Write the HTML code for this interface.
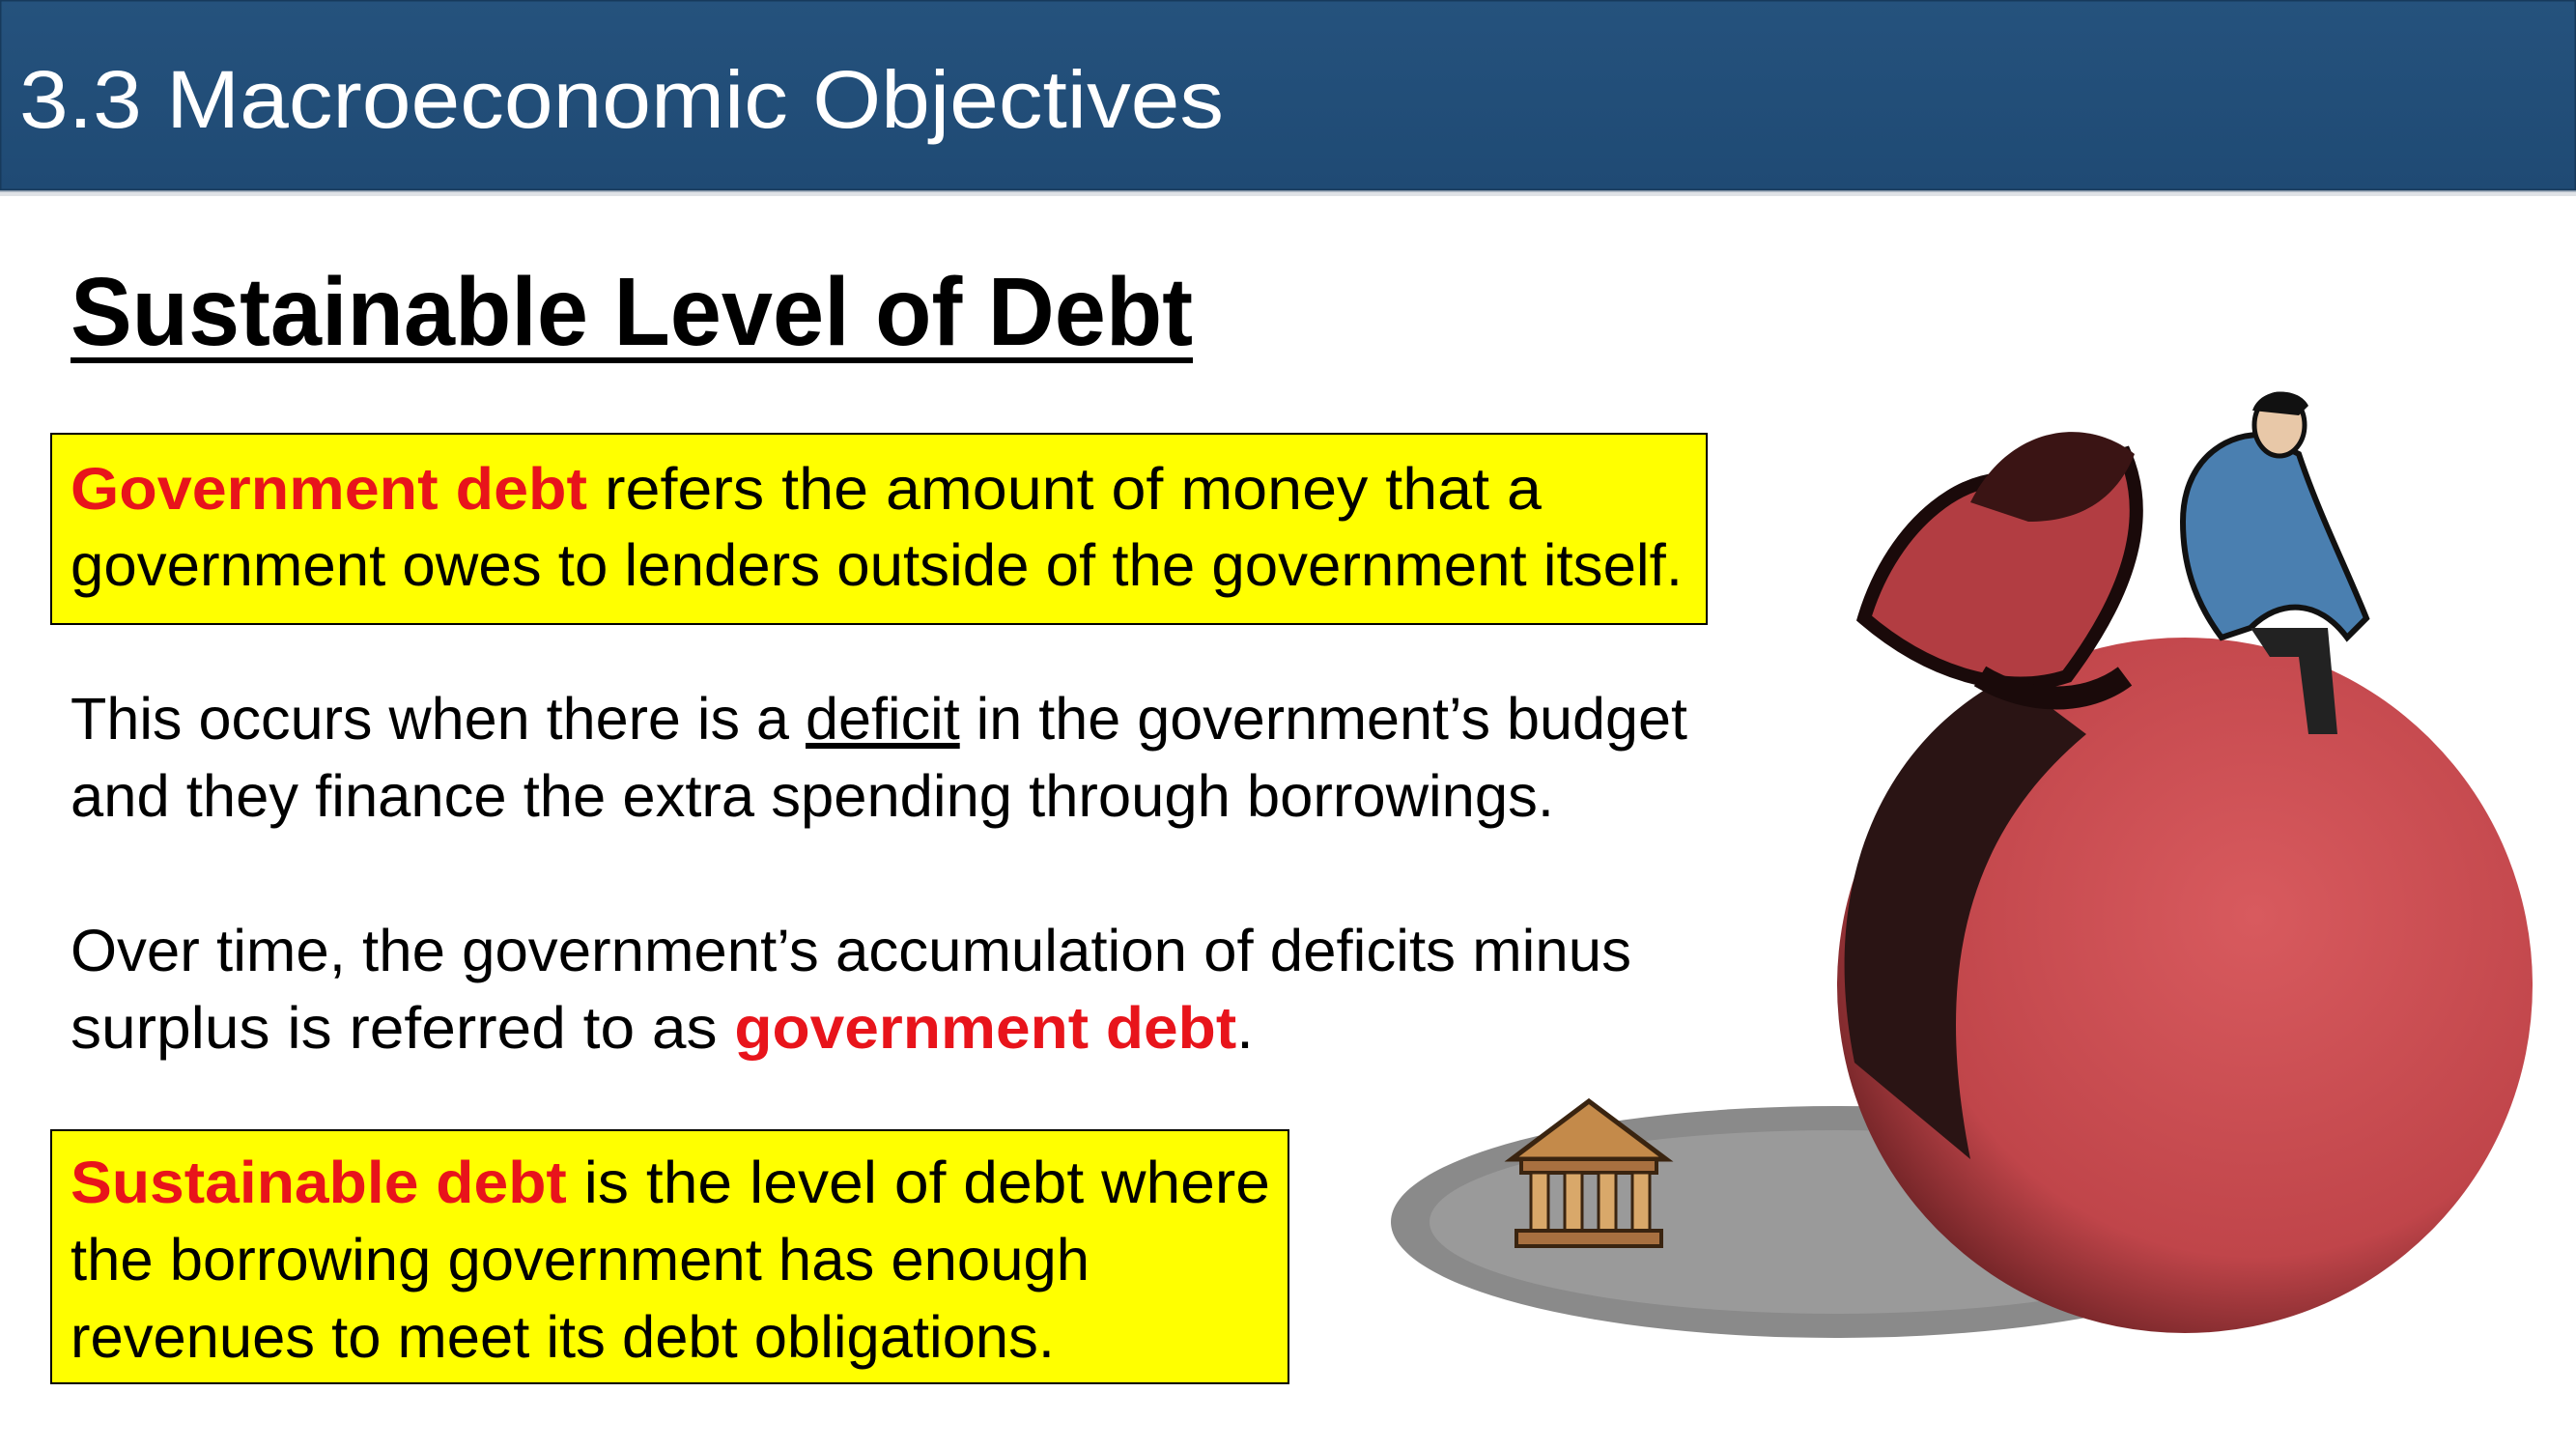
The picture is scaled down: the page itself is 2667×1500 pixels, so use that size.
<!DOCTYPE html>
<html><head><meta charset="utf-8"><style>
html,body{margin:0;padding:0;background:#fff;}
svg{display:block;}
text{font-family:"Liberation Sans",sans-serif;}
</style></head><body>
<svg width="2667" height="1500" viewBox="0 0 2667 1500">
<defs><linearGradient id="hdr" x1="0" y1="0" x2="0" y2="1"><stop offset="0" stop-color="#25527d"/><stop offset="1" stop-color="#1f4a74"/></linearGradient>
<radialGradient id="ball" cx="0.6" cy="0.4" r="0.7"><stop offset="0" stop-color="#d85a5e"/><stop offset="0.7" stop-color="#c0454a"/><stop offset="1" stop-color="#5a1a1c"/></radialGradient></defs>
<rect x="0" y="0" width="2667" height="197" fill="url(#hdr)" stroke="#173a5c" stroke-width="3"/>
<rect x="0" y="197" width="2667" height="6" fill="#c9cfd6" opacity="0.6"/>
<text x="20" y="132" font-size="84" fill="#fff" textLength="1247" lengthAdjust="spacingAndGlyphs">3.3 Macroeconomic Objectives</text>
<text x="73" y="357" font-size="100" font-weight="bold" fill="#000" textLength="1162" lengthAdjust="spacingAndGlyphs">Sustainable Level of Debt</text>
<rect x="73" y="370" width="1162" height="6" fill="#000"/>

<g>
<rect x="53" y="449" width="1714" height="197" fill="#ffff00" stroke="#000" stroke-width="2"/>
<text x="73" y="527" font-size="61" textLength="1523" lengthAdjust="spacingAndGlyphs"><tspan fill="#e8141b" font-weight="bold">Government debt </tspan><tspan fill="#000">refers the amount of money that a</tspan></text>
<text x="73" y="606" font-size="61" fill="#000" textLength="1669" lengthAdjust="spacingAndGlyphs">government owes to lenders outside of the government itself.</text>
</g>

<g>
<text x="73" y="765" font-size="61" fill="#000" textLength="1674" lengthAdjust="spacingAndGlyphs">This occurs when there is a <tspan text-decoration="underline">deficit</tspan> in the government’s budget</text>
<text x="73" y="845" font-size="61" fill="#000" textLength="1536" lengthAdjust="spacingAndGlyphs">and they finance the extra spending through borrowings.</text>
</g>

<g>
<text x="73" y="1005" font-size="61" fill="#000" textLength="1616" lengthAdjust="spacingAndGlyphs">Over time, the government’s accumulation of deficits minus</text>
<text x="73" y="1085" font-size="61" textLength="1225" lengthAdjust="spacingAndGlyphs"><tspan fill="#000">surplus is referred to as </tspan><tspan fill="#e8141b" font-weight="bold">government debt</tspan><tspan fill="#000">.</tspan></text>
</g>

<g>
<rect x="53" y="1170" width="1281" height="262" fill="#ffff00" stroke="#000" stroke-width="2"/>
<text x="73" y="1245" font-size="61" textLength="1242" lengthAdjust="spacingAndGlyphs"><tspan fill="#e8141b" font-weight="bold">Sustainable debt </tspan><tspan fill="#000">is the level of debt where</tspan></text>
<text x="73" y="1325" font-size="61" fill="#000" textLength="1055" lengthAdjust="spacingAndGlyphs">the borrowing government has enough</text>
<text x="73" y="1405" font-size="61" fill="#000" textLength="1019" lengthAdjust="spacingAndGlyphs">revenues to meet its debt obligations.</text>
</g>

<g>
<ellipse cx="1900" cy="1265" rx="460" ry="120" fill="#8a8a8a"/>
<ellipse cx="1900" cy="1265" rx="420" ry="95" fill="#9a9a9a"/>
<circle cx="2262" cy="1020" r="360" fill="url(#ball)"/>
<path d="M1920 1100 C1880 900 1960 760 2080 700 L2160 760 C2040 860 2000 1000 2040 1200 Z" fill="#2a1414"/>
<path d="M1930 640 C1960 540 2040 480 2100 500 L2200 470 C2230 540 2200 620 2140 700 C2080 720 2000 700 1930 640 Z" fill="#b23d42" stroke="#1a0a0a" stroke-width="14"/>
<path d="M2040 520 C2080 440 2160 430 2210 470 C2190 520 2150 540 2100 540 Z" fill="#3a1414"/>
<path d="M2050 700 C2100 730 2160 730 2200 700" stroke="#1a0a0a" stroke-width="24" fill="none"/>
<g>
<path d="M2260 540 C2260 480 2300 450 2340 450 L2380 470 C2400 530 2430 590 2450 640 L2430 660 C2400 620 2360 620 2330 650 L2300 660 C2270 620 2260 580 2260 540 Z" fill="#4a7fb0" stroke="#111" stroke-width="6"/>
<path d="M2330 650 L2410 650 L2420 760 L2390 760 L2380 680 L2350 680 Z" fill="#222"/>
<ellipse cx="2360" cy="440" rx="26" ry="32" fill="#e8c8a8" stroke="#111" stroke-width="5"/>
<path d="M2332 425 C2340 400 2380 400 2390 420 L2380 430 Z" fill="#111"/>
</g>
<g>
<polygon points="1565,1200 1645,1140 1725,1200" fill="#c48a4a" stroke="#3a2410" stroke-width="5"/>
<rect x="1575" y="1200" width="140" height="14" fill="#a87040" stroke="#3a2410" stroke-width="4"/>
<rect x="1585" y="1214" width="18" height="60" fill="#d9a86a" stroke="#3a2410" stroke-width="3"/>
<rect x="1620" y="1214" width="18" height="60" fill="#d9a86a" stroke="#3a2410" stroke-width="3"/>
<rect x="1655" y="1214" width="18" height="60" fill="#d9a86a" stroke="#3a2410" stroke-width="3"/>
<rect x="1690" y="1214" width="18" height="60" fill="#d9a86a" stroke="#3a2410" stroke-width="3"/>
<rect x="1570" y="1274" width="150" height="16" fill="#a87040" stroke="#3a2410" stroke-width="4"/>
</g>
</g>
</svg>
</body></html>
